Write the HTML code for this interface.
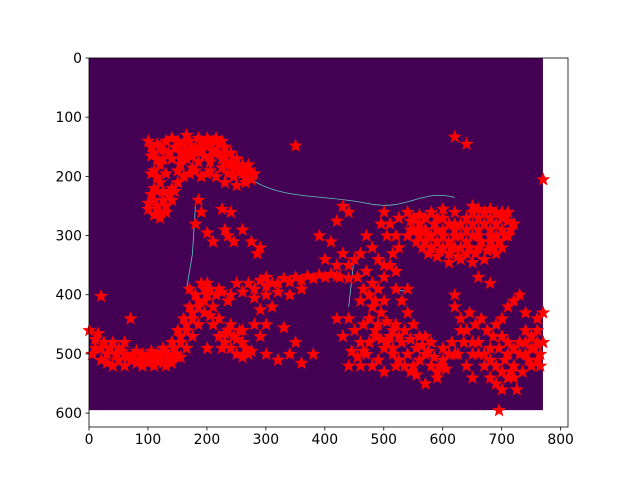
<!DOCTYPE html>
<html><head><meta charset="utf-8">
<style>
html,body{margin:0;padding:0;background:#fff;width:640px;height:480px;overflow:hidden}
svg text{font-family:"DejaVu Sans","Liberation Sans",sans-serif;font-size:13.9px;fill:#000}
</style></head>
<body>
<svg id="chart" width="640" height="480" xmlns="http://www.w3.org/2000/svg"></svg>
<script>
const xTicks=[0,100,200,300,400,500,600,700,800];
const yTicks=[0,100,200,300,400,500,600];
const imgW=770, imgH=595;
const xs=[100,105,110,115,120,110,115,120,110,105,110,115,120,100,130,125,135,140,150,160,170,180,190,200,130,140,150,160,170,180,190,200,210,220,230,240,250,260,270,280,245,255,235,225,215,205,195,185,175,165,155,145,135,125,155,175,205,215,235,265,275,120,140,150,230,250,
185,190,180,200,210,235,230,245,260,275,285,240,225,290,
200,220,240,260,280,300,320,340,360,380,400,420,440,300,320,340,360,280,
190,180,170,160,150,140,130,120,110,100,90,80,170,200,210,195,185,175,165,150,140,210,220,230,240,250,260,245,235,260,270,200,
0,10,20,30,40,50,60,70,80,90,100,110,120,130,140,20,30,50,60,70,20,5,
300,320,340,350,330,360,380,290,300,260,280,300,310,290,350,390,410,430,420,400,430,440,420,
440,450,460,470,480,470,480,490,500,510,520,510,500,520,530,540,550,560,520,510,500,490,480,470,460,450,440,530,540,550,560,570,580,590,600,610,520,500,460,440,570,590,420,430,520,540,500,480,460,490,570,
540,550,560,570,580,590,600,610,620,630,640,650,660,670,680,690,700,710,720,710,690,650,620,600,580,560,545,555,565,575,590,640,660,680,690,700,670,650,610,630,600,620,660,680,570,545,525,
620,630,640,650,660,670,680,690,700,710,720,730,740,750,760,770,765,755,745,735,725,715,705,695,685,675,665,655,645,635,625,615,700,710,720,730,740,760,770,765,695,690,680,640,650,660,680,620,770,620,640,
105,115,125,105,115,125,130,110,120,100,140,145,130,
150,160,170,180,190,200,210,220,230,240,250,260,215,225,165,185,195,205,225,245,265,270,155,
195,185,175,165,155,145,135,125,115,185,175,165,155,205,215,225,235,250,270,290,310,330,350,370,390,410,425,195,205,220,240,255,230,250,265,275,225,
15,25,35,45,55,65,75,85,95,105,115,125,135,145,155,40,60,10,
455,465,475,485,495,505,515,525,535,545,555,565,575,585,595,605,515,525,535,545,555,485,475,465,455,445,490,500,515,525,505,495,465,475,485,495,505,515,580,600,620,
540,550,560,570,580,590,600,610,620,630,640,650,660,670,680,690,700,705,715,600,610,620,630,640,650,660,680,700,560,585,595,615,625,645,655,665,675,685,695,710,590,575,
700,710,720,730,750,760,740,750,760,720,700,690,680,670,660,650,630,710,740];
const ys=[140,150,160,170,180,190,200,210,220,230,240,250,260,255,250,240,230,220,210,200,195,190,200,195,140,135,140,145,140,150,140,135,140,145,150,160,170,180,190,195,200,190,180,170,160,175,165,175,165,170,160,150,160,170,180,185,190,200,195,200,205,150,170,190,210,215,
240,260,280,295,310,300,290,310,290,310,330,260,255,320,
380,390,400,395,390,385,380,378,375,372,370,368,372,370,395,400,390,405,
380,400,420,440,460,480,495,500,505,510,500,495,390,400,420,430,450,470,490,505,515,450,470,480,490,500,505,470,460,480,500,490,
460,475,490,500,480,490,500,510,515,520,515,520,510,520,505,510,515,510,480,440,402,500,
500,510,500,480,455,515,500,470,450,460,450,400,420,425,148,300,310,330,350,340,250,260,275,
350,340,330,360,380,300,320,340,260,280,300,350,370,390,410,430,450,470,450,470,490,510,520,500,480,460,440,480,500,520,510,500,520,530,510,500,520,530,520,520,550,540,440,470,360,390,410,420,410,450,470,
260,270,280,290,300,310,320,330,320,300,290,280,270,260,270,280,290,300,280,260,260,260,260,255,260,265,290,310,320,330,335,330,320,310,330,320,340,345,345,340,290,280,300,290,270,275,270,
420,440,460,480,500,520,540,550,560,540,520,500,480,470,460,480,500,490,510,530,560,530,510,490,470,460,440,450,430,480,500,480,440,420,410,400,430,440,430,520,595,450,490,520,540,370,380,400,205,133,145,
165,145,155,195,225,225,260,265,270,245,240,225,195,
150,160,155,160,155,150,155,160,165,175,185,195,135,140,130,135,145,165,185,185,210,180,170,
390,410,430,450,470,490,505,490,500,420,440,460,480,390,400,395,410,380,380,375,380,372,370,368,366,365,370,410,435,440,450,460,465,475,490,495,490,
465,480,490,500,495,505,500,510,505,495,510,515,510,500,505,520,520,490,
370,390,400,410,430,445,460,470,460,475,490,485,495,505,520,525,500,510,520,530,535,470,480,495,505,495,390,350,330,320,300,280,450,440,460,475,480,490,480,490,500,
300,290,300,310,320,290,300,310,300,320,310,300,290,280,300,300,270,300,290,270,280,290,280,270,250,255,255,260,290,280,325,320,335,320,330,310,325,320,310,275,270,300,
470,480,490,480,490,480,500,520,510,540,530,520,510,500,480,500,460,500,460];

const L=89, T=58, R=568, B=427, xMax=812, yMax=623;
const sx=v=>L+(v+0.5)*(R-L)/(xMax+0.5);
const sy=v=>T+(v+0.5)*(B-T)/(yMax+0.5);
const NS="http://www.w3.org/2000/svg";
const svg=document.getElementById('chart');
function mk(tag,attrs){const e=document.createElementNS(NS,tag);for(const k in attrs)e.setAttribute(k,attrs[k]);svg.appendChild(e);return e;}

const img=mk('rect',{x:sx(-0.5),y:sy(-0.5),width:sx(imgW-0.5)-sx(-0.5),height:sy(imgH-0.5)-sy(-0.5),fill:'#440154'});



const edge=mk('path',{d:`M${sx(275)},${sy(205)} C${sx(330)},${sy(240)} ${sx(400)},${sy(230)} ${sx(470)},${sy(245)} S${sx(560)},${sy(220)} ${sx(620)},${sy(235)} M${sx(180)},${sy(250)} L${sx(175)},${sy(330)} L${sx(165)},${sy(390)} M${sx(450)},${sy(330)} L${sx(440)},${sy(420)} M${sx(520)},${sy(390)} L${sx(540)},${sy(395)}`,fill:'none',stroke:'#5ec9c0','stroke-width':0.8});



function starPts(cx,cy,r){let p=[];for(let i=0;i<10;i++){const a=-Math.PI/2+i*Math.PI/5;const rr=i%2?r*0.42:r;p.push((cx+rr*Math.cos(a)).toFixed(1)+','+(cy+rr*Math.sin(a)).toFixed(1));}return p.join(' ');}
for(let i=0;i<xs.length;i++){
  const s=mk('polygon',{points:starPts(sx(xs[i]),sy(ys[i]),6.2),fill:'#ff0000',stroke:'#ff0000','stroke-width':0.8});
  
  
}

const frame=mk('rect',{x:L,y:T,width:R-L,height:B-T,fill:'none',stroke:'#000','stroke-width':0.8});



xTicks.forEach(v=>{
  const x=sx(v-0.5);
  const t=mk('line',{x1:x,y1:B,x2:x,y2:B+3.5,stroke:'#000','stroke-width':0.8});
  
  
  const lb=mk('text',{x:x,y:B+17,'text-anchor':'middle'});lb.textContent=v;
  
  
});
yTicks.forEach(v=>{
  const y=sy(v-0.5);
  const t=mk('line',{x1:L-3.5,y1:y,x2:L,y2:y,stroke:'#000','stroke-width':0.8});
  
  
  const lb=mk('text',{x:L-7,y:y+5,'text-anchor':'end'});lb.textContent=v;
  
  
});
</script>
</body></html>
